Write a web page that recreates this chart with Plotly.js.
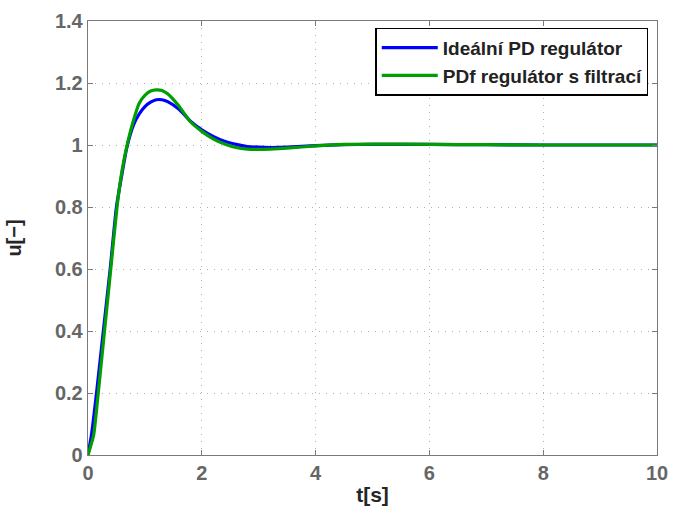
<!DOCTYPE html>
<html>
<head>
<meta charset="utf-8">
<script src="https://cdn.plot.ly/plotly-3.0.1.min.js"></script>
<style>html,body{margin:0;padding:0;background:#fff;}#chart{width:673px;height:511px;}</style>
</head>
<body>
<div id="chart"></div>
<script>
// Ideální PD regulátor
const tIdeal = [0, 0.065, 0.15, 0.27, 0.39, 0.5, 0.6, 0.68, 0.8, 0.9, 1.0, 1.1, 1.2, 1.3, 1.4, 1.6, 1.8, 2.0, 2.2, 2.4, 2.6, 2.8, 3.0, 3.2, 3.5, 4.0, 4.5, 5, 6, 7, 8, 9, 10];
const uIdeal = [0, 0.07, 0.2, 0.4, 0.6, 0.8, 0.91, 0.99, 1.065, 1.1, 1.124, 1.138, 1.146, 1.146, 1.14, 1.115, 1.077, 1.049, 1.028, 1.012, 1.002, 0.995, 0.993, 0.992, 0.993, 0.998, 1.001, 1.002, 1.002, 1.001, 1.0, 1.0, 1.0];
// PDf regulátor s filtrací
const tFilt = [0, 0.1, 0.18, 0.29, 0.4, 0.51, 0.6, 0.7, 0.8, 0.9, 1.0, 1.1, 1.2, 1.3, 1.4, 1.6, 1.8, 2.0, 2.2, 2.4, 2.6, 2.8, 3.0, 3.2, 3.5, 4.0, 4.5, 5, 6, 7, 8, 9, 10];
const uFilt = [0, 0.065, 0.2, 0.4, 0.6, 0.8, 0.92, 1.01, 1.08, 1.135, 1.16, 1.174, 1.178, 1.176, 1.165, 1.125, 1.075, 1.044, 1.02, 1.003, 0.992, 0.987, 0.986, 0.987, 0.99, 0.997, 1.002, 1.003, 1.002, 1.001, 1.0, 1.0, 1.0];

const names = ['Ideální PD regulátor', 'PDf regulátor s filtrací'];
const xTicks = [0, 2, 4, 6, 8, 10];
const yTicks = [0, 0.2, 0.4, 0.6, 0.8, 1, 1.2, 1.4];
const yTickText = ['0', '0.2', '0.4', '0.6', '0.8', '1', '1.2', '1.4'];

const FONT = 'Liberation Sans, Arial, Helvetica, sans-serif';

const traces = [
  {x: tIdeal, y: uIdeal, name: names[0], mode: 'lines', line: {color: '#0000ff', width: 3.2, shape: 'spline', smoothing: 0.5}},
  {x: tFilt, y: uFilt, name: names[1], mode: 'lines', line: {color: '#009e00', width: 3.2, shape: 'spline', smoothing: 0.5}}
];

const axisCommon = {
  showline: true, linecolor: '#7a7a7a', linewidth: 1.3, mirror: 'ticks',
  ticks: 'inside', ticklen: 5, tickcolor: '#7a7a7a', tickwidth: 1,
  showgrid: true, gridcolor: '#b0b0b0', gridwidth: 1, griddash: '1px,6px',
  zeroline: false,
  tickfont: {family: FONT, size: 20, color: '#666666', weight: 'bold'}
};

const layout = {
  width: 673, height: 511,
  margin: {l: 88, r: 16, t: 21, b: 56},
  paper_bgcolor: '#ffffff', plot_bgcolor: '#ffffff',
  showlegend: true,
  xaxis: Object.assign({}, axisCommon, {
    range: [0, 10], tickvals: xTicks, ticktext: xTicks.map(String),
    title: {text: 't[s]', font: {family: FONT, size: 21, color: '#262626', weight: 'bold'}, standoff: 4}
  }),
  yaxis: Object.assign({}, axisCommon, {
    range: [0, 1.4], tickvals: yTicks, ticktext: yTickText,
    title: {text: 'u[−]', font: {family: FONT, size: 20, color: '#262626', weight: 'bold'}, standoff: 28}
  }),
  legend: {
    x: 0.985, xanchor: 'right', y: 0.985, yanchor: 'top',
    bgcolor: '#ffffff', bordercolor: '#000000', borderwidth: 1.3,
    font: {family: FONT, size: 19, color: '#222222', weight: 'bold'},
    itemwidth: 56, tracegroupgap: 0
  }
};

Plotly.newPlot('chart', traces, layout, {displayModeBar: false, staticPlot: true});
</script>
</body>
</html>
